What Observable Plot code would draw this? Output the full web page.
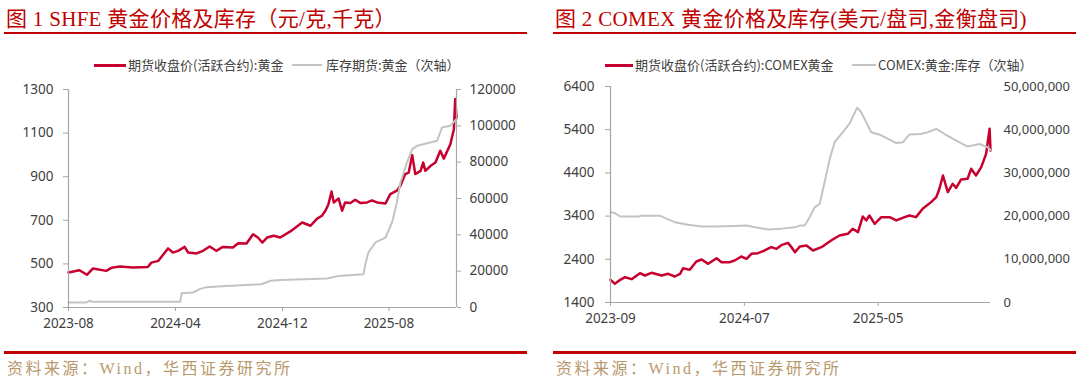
<!DOCTYPE html>
<html>
<head>
<meta charset="utf-8">
<script src="https://cdn.jsdelivr.net/npm/d3@7"></script>
<script src="https://cdn.jsdelivr.net/npm/@observablehq/plot@0.6"></script>
<style>
  html, body { margin: 0; padding: 0; background: #fff; }
  #wrap { position: relative; width: 1080px; height: 376px; overflow: hidden; background: #fff; }
  .panel { position: absolute; top: 0; width: 540px; height: 376px; }
  .title { position: absolute; top: 6px; font-family: "Liberation Serif", "Noto Sans CJK SC", serif; font-size: 21px; line-height: 26px; color: #c00000; white-space: nowrap; letter-spacing: 0.3px; }
  .rule { position: absolute; background: #c00000; }
  .legend { position: absolute; top: 56px; height: 18px; font-family: "Noto Sans CJK SC", sans-serif; font-size: 13px; line-height: 18px; color: #404040; white-space: nowrap; }
  .legend span { position: absolute; top: 0; }
  .legend i { position: absolute; top: 8px; display: block; }
  .plot { position: absolute; top: 75px; left: 0; }
  .source { position: absolute; top: 358px; font-family: "Liberation Serif", "Noto Sans CJK SC", serif; font-size: 16px; line-height: 22px; color: #b8996c; letter-spacing: 2.5px; white-space: nowrap; }
</style>
</head>
<body>
<div id="wrap">
  <div class="panel" id="pL" style="left:0">
    <div class="title" style="left:6px">图 1 SHFE 黄金价格及库存（元/克,千克）</div>
    <div class="rule" style="left:4px; width:523px; top:31.5px; height:2.5px"></div>
    <div class="legend" style="left:0; width:540px">
      <i style="left:94px; width:32px; height:2.5px; background:#c8002f"></i>
      <span style="left:128px">期货收盘价(活跃合约):黄金</span>
      <i style="left:292px; width:30px; height:2px; background:#c3c3c3"></i>
      <span style="left:326px">库存期货:黄金（次轴）</span>
    </div>
    <div class="plot" id="plotL"></div>
    <div class="rule" style="left:4px; width:523px; top:350.5px; height:3px"></div>
    <div class="source" style="left:7px">资料来源：Wind，华西证券研究所</div>
  </div>
  <div class="panel" id="pR" style="left:540px">
    <div class="title" style="left:15px">图 2 COMEX 黄金价格及库存(美元/盘司,金衡盘司)</div>
    <div class="rule" style="left:13px; width:523px; top:31.5px; height:2.5px"></div>
    <div class="legend" style="left:0; width:540px">
      <i style="left:65px; width:28px; height:2.5px; background:#c8002f"></i>
      <span style="left:95px">期货收盘价(活跃合约):COMEX黄金</span>
      <i style="left:312px; width:24px; height:2px; background:#c3c3c3"></i>
      <span style="left:338px">COMEX:黄金:库存（次轴）</span>
    </div>
    <div class="plot" id="plotR"></div>
    <div class="rule" style="left:13px; width:523px; top:350.5px; height:3px"></div>
    <div class="source" style="left:16px">资料来源：Wind，华西证券研究所</div>
  </div>
</div>
<script>
// ---------- Data: SHFE (figure 1) ----------
const shfePriceDates = ["2023-08-01","2023-08-26","2023-09-12","2023-09-26","2023-10-26","2023-11-07","2023-11-26","2023-12-26","2024-01-29","2024-02-06","2024-02-22","2024-03-15","2024-03-26","2024-04-07","2024-04-22","2024-04-30","2024-05-19","2024-06-03","2024-06-18","2024-07-03","2024-07-18","2024-08-10","2024-08-22","2024-09-10","2024-09-25","2024-10-06","2024-10-16","2024-10-27","2024-11-11","2024-11-26","2024-12-19","2025-01-15","2025-02-03","2025-02-18","2025-03-01","2025-03-09","2025-03-16","2025-03-23","2025-03-28","2025-04-08","2025-04-16","2025-04-23","2025-05-05","2025-05-16","2025-05-28","2025-06-12","2025-06-23","2025-07-05","2025-07-24","2025-08-04","2025-08-19","2025-08-27","2025-09-07","2025-09-15","2025-09-23","2025-09-30","2025-10-12","2025-10-18","2025-10-23","2025-11-04","2025-11-15","2025-11-26","2025-12-04","2025-12-19","2025-12-27","2025-12-30","2026-01-02"];
const shfePriceValues = [461,471,450,479,468,482,488,483,486,506,514,571,552,560,578,552,548,560,580,560,578,575,595,594,636,621,598,621,629,621,649,690,675,708,721,744,774,832,782,800,744,782,779,794,779,782,791,782,777,820,836,858,912,919,999,912,927,965,927,950,965,1019,983,1049,1118,1256,1172];
const shfeStockDates = ["2023-08-01","2023-09-10","2023-09-18","2023-09-25","2024-04-12","2024-04-15","2024-05-11","2024-05-26","2024-06-11","2024-07-26","2024-10-14","2024-11-04","2024-11-26","2025-03-13","2025-04-08","2025-06-04","2025-06-08","2025-06-15","2025-07-01","2025-07-24","2025-08-08","2025-08-19","2025-08-27","2025-09-11","2025-09-23","2025-10-04","2025-11-19","2025-11-30","2025-12-19","2025-12-31","2026-01-02"];
const shfeStockValues = [2700,2700,3700,3100,3100,7900,8250,10100,11200,11900,12800,14700,15200,16000,17400,18300,23800,30300,35800,38500,46800,57800,68800,79800,87200,89000,91800,99100,100000,103300,103500];
const shfeYTicks = [300,500,700,900,1100,1300];
const shfeY2Ticks = [0,20000,40000,60000,80000,100000,120000];
const shfeXTicks = ["2023-08-01","2024-04-01","2024-12-01","2025-08-01"];
const shfeXDomain = ["2023-08-01","2026-01-02"];

// ---------- Data: COMEX (figure 2) ----------
const comexPriceDates = ["2023-09-01","2023-09-11","2023-09-23","2023-10-04","2023-10-19","2023-11-07","2023-11-18","2023-12-03","2023-12-26","2024-01-10","2024-01-25","2024-02-06","2024-02-13","2024-02-28","2024-03-14","2024-03-26","2024-04-10","2024-04-29","2024-05-10","2024-05-29","2024-06-09","2024-06-24","2024-07-06","2024-07-17","2024-08-01","2024-08-16","2024-08-31","2024-09-12","2024-09-23","2024-10-08","2024-10-16","2024-10-24","2024-11-04","2024-11-19","2024-12-04","2024-12-23","2025-01-14","2025-02-02","2025-02-21","2025-03-04","2025-03-16","2025-03-27","2025-04-04","2025-04-11","2025-04-23","2025-05-08","2025-05-27","2025-06-11","2025-06-30","2025-07-11","2025-07-26","2025-08-10","2025-08-29","2025-09-10","2025-09-17","2025-09-25","2025-10-06","2025-10-17","2025-10-25","2025-11-05","2025-11-20","2025-11-28","2025-12-09","2025-12-21","2026-01-01","2026-01-09","2026-01-11"];
const comexPriceValues = [1925,1833,1925,1986,1940,2078,2025,2087,2025,2064,2002,2064,2194,2156,2349,2395,2295,2426,2333,2333,2372,2465,2411,2527,2542,2604,2681,2642,2727,2781,2681,2565,2697,2719,2604,2681,2836,2951,2990,3106,3028,3391,3299,3414,3221,3376,3376,3299,3376,3414,3376,3569,3723,3838,4032,4340,3954,4148,4055,4247,4264,4495,4340,4533,4842,5421,4919];
const comexStockDates = ["2023-09-01","2023-09-11","2023-09-23","2023-11-03","2023-11-11","2023-12-22","2024-01-06","2024-01-25","2024-02-24","2024-03-26","2024-04-25","2024-06-09","2024-07-06","2024-07-25","2024-08-24","2024-09-23","2024-10-24","2024-11-04","2024-11-15","2024-11-26","2024-12-08","2024-12-19","2024-12-31","2025-01-11","2025-01-22","2025-02-06","2025-02-25","2025-03-14","2025-03-23","2025-04-04","2025-04-15","2025-05-08","2025-06-11","2025-06-26","2025-07-11","2025-08-06","2025-08-21","2025-09-10","2025-09-29","2025-10-21","2025-11-20","2025-12-17","2026-01-05","2026-01-11"];
const comexStockValues = [20900000,20700000,19900000,19900000,20100000,20100000,19400000,18600000,18000000,17600000,17600000,17700000,17800000,17400000,16900000,17100000,17400000,17800000,17800000,19700000,22100000,22800000,28200000,33300000,37100000,39000000,41400000,45100000,44100000,41700000,39400000,38700000,36900000,37100000,38900000,39000000,39400000,40200000,39000000,37700000,36100000,36700000,35900000,35300000];
const comexYTicks = [1400,2400,3400,4400,5400,6400];
const comexY2Ticks = [0,10000000,20000000,30000000,40000000,50000000];
const comexXTicks = ["2023-09-01","2024-07-01","2025-05-01"];
const comexXDomain = ["2023-09-01","2026-01-11"];

// ---------- Styles ----------
const RED = "#c8002f";
const GRAY = "#c3c3c3";
const AXIS = "#a6a6a6";
const TEXT = "#404040";
const parse = s => new Date(s + "T00:00:00Z");
const zip = (ds, vs) => ds.map((d, i) => ({date: parse(d), value: vs[i]}));

function dualChart({priceDates, priceValues, stockDates, stockValues, yTicks, y2Ticks, xTicks, xDomain,
                    margins, rightAxisLine, rightTickSize, rightPad, rightFont, rightFormat}) {
  const [y0, y1] = [yTicks[0], yTicks[yTicks.length - 1]];
  const [s0, s1] = [y2Ticks[0], y2Ticks[y2Ticks.length - 1]];
  const toPrimary = v => y0 + (v - s0) / (s1 - s0) * (y1 - y0);
  const toSecondary = v => s0 + (v - y0) / (y1 - y0) * (s1 - s0);
  const price = zip(priceDates, priceValues);
  const stock = zip(stockDates, stockValues);
  const dom = xDomain.map(parse);
  const marks = [
    Plot.line(price, {x: "date", y: "value", stroke: RED, strokeWidth: 2.5, strokeLinejoin: "round"}),
    Plot.line(stock, {x: "date", y: d => toPrimary(d.value), stroke: GRAY, strokeWidth: 2, strokeLinejoin: "round"}),
    Plot.ruleY([y0], {stroke: AXIS, strokeWidth: 1.2}),
    Plot.ruleX([dom[0]], {stroke: AXIS, strokeWidth: 1.2}),
    Plot.axisY(yTicks, {anchor: "left", tickSize: 5, tickPadding: margins.leftPad, stroke: AXIS, fill: TEXT, label: null, fontSize: 13.5,
      tickFormat: d => String(d)}),
    Plot.axisY(y2Ticks.map(toPrimary), {anchor: "right", tickSize: rightTickSize, tickPadding: rightPad, stroke: AXIS, fill: TEXT, label: null,
      fontSize: rightFont, tickFormat: d => rightFormat(Math.round(toSecondary(d)))}),
    Plot.axisX(xTicks.map(parse), {tickSize: 4, tickPadding: margins.xPad, stroke: AXIS, fill: TEXT, label: null, fontSize: 13.5,
      tickFormat: d3.utcFormat("%Y-%m")})
  ];
  if (rightAxisLine) marks.splice(4, 0, Plot.ruleX([dom[1]], {stroke: AXIS, strokeWidth: 1.2}));
  return Plot.plot({
    width: 540, height: 270,
    marginLeft: margins.left, marginRight: margins.right, marginTop: margins.top, marginBottom: margins.bottom,
    x: {type: "utc", domain: dom},
    y: {domain: [y0, y1]},
    style: {fontFamily: "'Noto Sans', 'Noto Sans CJK SC', sans-serif", color: TEXT, background: "transparent", overflow: "visible"},
    marks
  });
}

document.getElementById("plotL").append(dualChart({
  priceDates: shfePriceDates, priceValues: shfePriceValues,
  stockDates: shfeStockDates, stockValues: shfeStockValues,
  yTicks: shfeYTicks, y2Ticks: shfeY2Ticks, xTicks: shfeXTicks, xDomain: shfeXDomain,
  margins: {left: 68, right: 84, top: 14, bottom: 38, leftPad: 10, xPad: 7},
  rightAxisLine: true, rightTickSize: 4, rightPad: 9, rightFont: 13.5, rightFormat: d => String(d)
}));

document.getElementById("plotR").append(dualChart({
  priceDates: comexPriceDates, priceValues: comexPriceValues,
  stockDates: comexStockDates, stockValues: comexStockValues,
  yTicks: comexYTicks, y2Ticks: comexY2Ticks, xTicks: comexXTicks, xDomain: comexXDomain,
  margins: {left: 70, right: 90, top: 11, bottom: 43, leftPad: 11, xPad: 7},
  rightAxisLine: false, rightTickSize: 0, rightPad: 13, rightFont: 13, rightFormat: d3.format(",")
}));
</script>
</body>
</html>
